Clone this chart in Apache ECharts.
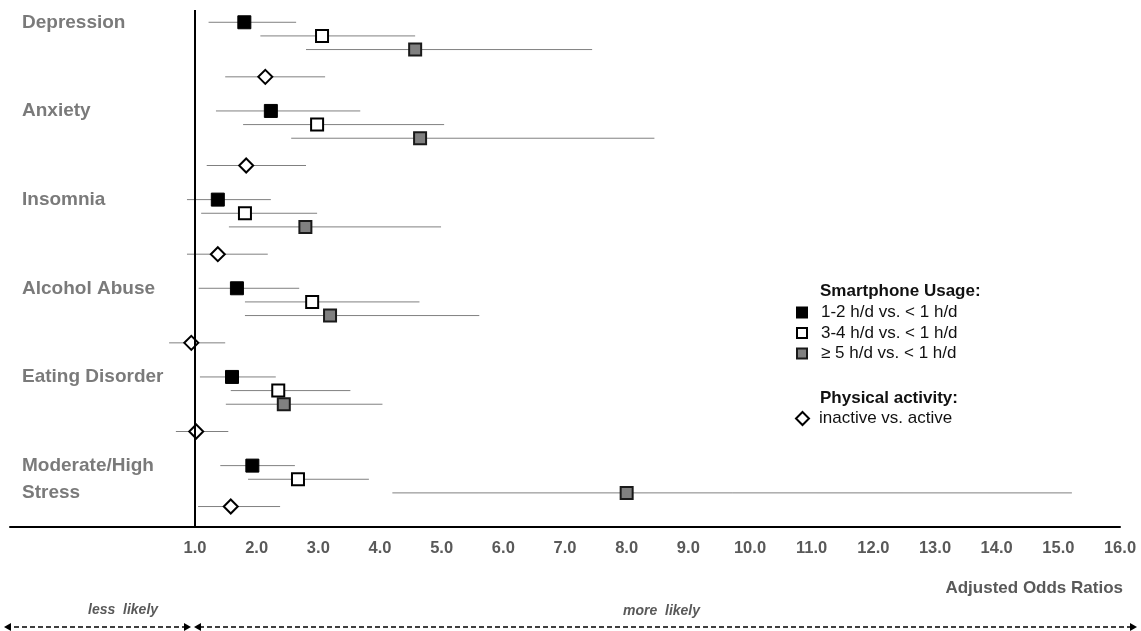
<!DOCTYPE html>
<html>
<head>
<meta charset="utf-8">
<script src="https://cdn.jsdelivr.net/npm/echarts@6/dist/echarts.min.js"></script>
<style>
  html, body { margin: 0; padding: 0; background: #fff; }
  #forest { width: 1141px; height: 631px; }
</style>
</head>
<body>
<div id="forest"></div>
<script>
// outcomes, one group of rows each
var outcomes = ['Depression', 'Anxiety', 'Insomnia', 'Alcohol Abuse', 'Eating Disorder', 'Moderate/High\nStress'];
var outcomeRow = [0, 6.5, 13, 19.5, 26, 33.5];

// adjusted odds ratios with 95% CI
var or12 = [1.80, 2.23, 1.37, 1.68, 1.60, 1.93];
var lo12 = [1.22, 1.34, 0.87, 1.06, 1.08, 1.41];
var hi12 = [2.64, 3.68, 2.23, 2.69, 2.31, 2.62];
var row12 = [0, 6.5, 13, 19.5, 26, 32.5];

var or34 = [3.06, 2.98, 1.81, 2.90, 2.35, 2.67];
var lo34 = [2.06, 1.78, 1.10, 1.81, 1.58, 1.86];
var hi34 = [4.57, 5.04, 2.98, 4.64, 3.52, 3.82];
var row34 = [1, 7.5, 14, 20.5, 27, 33.5];

var or5 = [4.57, 4.65, 2.79, 3.19, 2.44, 8.00];
var lo5 = [2.80, 2.56, 1.55, 1.81, 1.50, 4.20];
var hi5 = [7.44, 8.45, 4.99, 5.61, 4.04, 15.22];
var row5 = [2, 8.5, 15, 21.5, 28, 34.5];

var orPa = [2.14, 1.83, 1.37, 0.94, 1.02, 1.58];
var loPa = [1.49, 1.19, 0.87, 0.58, 0.69, 1.05];
var hiPa = [3.11, 2.80, 2.18, 1.49, 1.54, 2.38];
var rowPa = [4, 10.5, 17, 23.5, 30, 35.5];

var groups = [
    { name: '1-2 h/d vs. < 1 h/d', or: or12, lo: lo12, hi: hi12, row: row12 },
    { name: '3-4 h/d vs. < 1 h/d', or: or34, lo: lo34, hi: hi34, row: row34 },
    { name: '\u2265 5 h/d vs. < 1 h/d', or: or5, lo: lo5, hi: hi5, row: row5 },
    { name: 'inactive vs. active', or: orPa, lo: loPa, hi: hiPa, row: rowPa }
];

var font = 'Liberation Sans, Arial, sans-serif';
var grey = '#595959';

var ciData = [];
groups.forEach(function (g) {
    g.or.forEach(function (v, i) {
        ciData.push([g.lo[i], g.hi[i], g.row[i]]);
    });
});

function points(g) {
    return g.or.map(function (v, i) { return [v, g.row[i]]; });
}

var dom = document.getElementById('forest');
var myChart = echarts.init(dom, null, { renderer: 'canvas' });

var option = {
    animation: false,
    title: [
        { text: 'Smartphone Usage:', left: 820, top: 283, padding: 0,
          textStyle: { fontFamily: font, fontSize: 17, fontWeight: 'bold', color: '#111' } },
        { text: 'Physical activity:', left: 820, top: 390, padding: 0,
          textStyle: { fontFamily: font, fontSize: 17, fontWeight: 'bold', color: '#111' } },
        { text: 'Adjusted Odds Ratios', right: 18, top: 580, padding: 0,
          textStyle: { fontFamily: font, fontSize: 17, fontWeight: 'bold', color: grey } }
    ],
    legend: [
        {
            data: [groups[0].name, groups[1].name, groups[2].name],
            orient: 'vertical', left: 796, top: 304, padding: 0,
            itemWidth: 10, itemHeight: 10, itemGap: 3.5,
            selectedMode: false,
            textStyle: { fontFamily: font, fontSize: 17, color: '#111', padding: [0, 0, 0, 9] }
        },
        {
            data: [groups[3].name],
            orient: 'vertical', left: 795, top: 410, padding: 0,
            itemWidth: 13, itemHeight: 13,
            selectedMode: false,
            textStyle: { fontFamily: font, fontSize: 17, color: '#111', padding: [0, 0, 0, 5] }
        }
    ],
    grid: { left: 10, right: 21, top: 10, bottom: 104 },
    xAxis: {
        type: 'value', min: -2, max: 16, interval: 1,
        position: 'bottom',
        axisLine: { onZero: false, lineStyle: { color: '#000', width: 2 } },
        axisTick: { show: false },
        splitLine: { show: false },
        axisLabel: {
            margin: 13,
            fontFamily: font, fontSize: 16.5, fontWeight: 'bold', color: grey,
            formatter: function (v) { return v >= 1 ? v.toFixed(1) : ''; }
        }
    },
    yAxis: {
        type: 'value', min: -0.9, max: 37, inverse: true, show: false
    },
    series: [
        {
            type: 'custom',
            name: 'ci',
            z: 1,
            data: ciData,
            renderItem: function (params, api) {
                var a = api.coord([api.value(0), api.value(2)]);
                var b = api.coord([api.value(1), api.value(2)]);
                return {
                    type: 'line',
                    shape: { x1: a[0], y1: a[1], x2: b[0], y2: b[1] },
                    style: { stroke: '#808080', lineWidth: 1 }
                };
            },
            markLine: {
                silent: true, symbol: 'none', label: { show: false },
                lineStyle: { color: '#000', width: 2, type: 'solid' },
                data: [{ xAxis: 1 }]
            }
        },
        {
            type: 'scatter', name: groups[0].name, z: 3,
            symbol: 'rect', symbolSize: 13,
            itemStyle: { color: '#000', borderColor: '#000', borderWidth: 1, opacity: 1 },
            data: points(groups[0])
        },
        {
            type: 'scatter', name: groups[1].name, z: 3,
            symbol: 'rect', symbolSize: 12,
            itemStyle: { color: '#fff', borderColor: '#000', borderWidth: 2, opacity: 1 },
            data: points(groups[1])
        },
        {
            type: 'scatter', name: groups[2].name, z: 3,
            symbol: 'rect', symbolSize: 12,
            itemStyle: { color: '#808080', borderColor: '#1a1a1a', borderWidth: 2, opacity: 1 },
            data: points(groups[2])
        },
        {
            type: 'scatter', name: groups[3].name, z: 3,
            symbol: 'diamond', symbolSize: 14,
            itemStyle: { color: '#fff', borderColor: '#000', borderWidth: 2, opacity: 1 },
            data: points(groups[3])
        },
        {
            type: 'scatter', name: 'outcomes', z: 2,
            symbolSize: 0, silent: true,
            label: {
                show: true, position: 'right', distance: 12,
                fontFamily: font, fontSize: 19, fontWeight: 'bold', color: grey, lineHeight: 27,
                formatter: function (p) { return outcomes[p.dataIndex]; }
            },
            data: outcomeRow.map(function (r) { return [-2, r]; })
        }
    ]
};

myChart.setOption(option);

// "less likely / more likely" arrows under the axis, split at OR = 1
var x1 = myChart.convertToPixel({ xAxisIndex: 0 }, 1);
var ay = 627;
function head(x, dir) {
    return {
        type: 'polygon',
        shape: { points: [[x, ay], [x - dir * 7, ay - 4], [x - dir * 7, ay + 4]] },
        style: { fill: '#000' }
    };
}
var dash = { stroke: '#000', lineWidth: 1.5, lineDash: [5, 3] };
myChart.setOption({
    graphic: [
        { type: 'line', shape: { x1: 6, y1: ay, x2: x1 - 6, y2: ay }, style: dash },
        head(4, -1),
        head(x1 - 4, 1),
        { type: 'line', shape: { x1: x1 + 4, y1: ay, x2: 1133, y2: ay }, style: dash },
        head(x1 - 1, -1),
        head(1137, 1),
        { type: 'text', left: 88, top: 603,
          style: { text: 'less  likely', font: 'italic bold 14px ' + font, fill: grey } },
        { type: 'text', left: 623, top: 604,
          style: { text: 'more  likely', font: 'italic bold 14px ' + font, fill: grey } }
    ]
});

window.addEventListener('resize', myChart.resize);
</script>
</body>
</html>
